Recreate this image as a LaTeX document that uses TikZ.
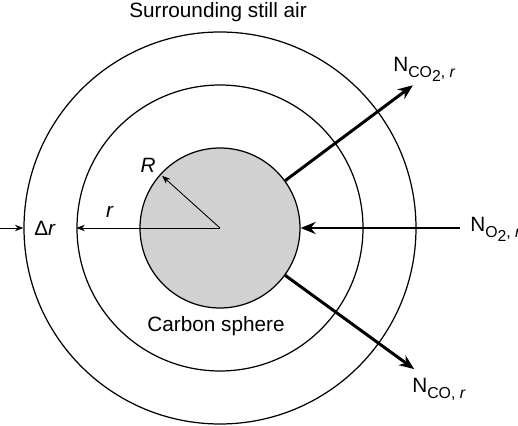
\documentclass[tikz,border=0pt]{standalone}
\usepackage{fontspec}
\setmainfont{Liberation Sans}
\usetikzlibrary{positioning, arrows.meta}

\newcommand{\lowsub}[1]{\raisebox{-0.5ex}{\small #1}}

\begin{document}
\begin{tikzpicture}[
    font=\fontsize{11.8}{14}\selectfont,
    shell/.style={circle, draw=black, line width=0.7pt, inner sep=0pt},
    flux/.style={-{Stealth[length=3mm, width=2.4mm]}, line width=1.7pt},
    thinarrow/.style={-{Stealth[length=1.7mm, width=1.3mm]}, line width=0.5pt}
]
   \useasboundingbox (-4.4,-3.96) rectangle (5.96,4.56);

   % Shells and sphere
   \coordinate (c) at (0,0);
   \node[shell, minimum size=7.84cm] (outer) at (c) {};
   \node[shell, minimum size=5.72cm] (mid) at (c) {};
   \node[shell, fill=black!18, minimum size=3.2cm] (sphere) at (c) {};

   % Free ends
   \coordinate (co2end) at (36.5:4.8);
   \coordinate (coend) at (-36:4.8);
   \coordinate (o2start) at (4.8,0);
   \coordinate (Rend) at (138:1.56);
   \coordinate (drstart) at (-4.4,0);

   % Labels
   \node (air) at (-0.04,4.32) {Surrounding still air};
   \node (carbon) at (-0.08,-1.96) {Carbon sphere};
   \node (Rlab) at (-1.44,1.26) {\textit{R}};
   \node (rlab) at (-2.2,0.32) {\textit{r}};
   \node (drlab) at (-3.5,0) {Δ\textit{r}};
   \node[anchor=base west, inner sep=0pt] (nco2) at (3.46,3.12) {N\lowsub{CO\lowsub{2}, \textit{r}}};
   \node[anchor=base west, inner sep=0pt] (no2) at (5.0,-0.08) {N\lowsub{O\lowsub{2}, \textit{r}}};
   \node[anchor=base west, inner sep=0pt] (nco) at (3.84,-3.3) {N\lowsub{CO, \textit{r}}};

   % Radii
   \draw[thinarrow] (c) -- (Rend);
   \draw[thinarrow] (c) -- (mid.west);
   \draw[thinarrow] (drstart) -- (outer.west);

   % Fluxes
   \draw[flux] (sphere.36.5) -- (co2end);
   \draw[flux] (o2start) -- (sphere.east);
   \draw[flux] (sphere.-36) -- (coend);
\end{tikzpicture}
\end{document}
